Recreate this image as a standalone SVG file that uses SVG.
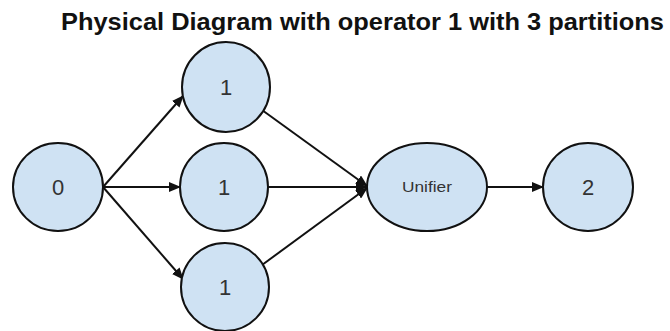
<svg xmlns="http://www.w3.org/2000/svg" width="670" height="331" viewBox="0 0 670 331">
<style>
.n{fill:#cfe2f3;stroke:#111;stroke-width:2}
.t{font-family:"Liberation Sans",Arial,sans-serif;fill:#333;text-anchor:middle}
.e{stroke:#111;stroke-width:2;fill:none;marker-end:url(#a)}
</style>
<defs>
<marker id="a" viewBox="0 0 12 10" refX="11" refY="5" markerWidth="12" markerHeight="10" markerUnits="userSpaceOnUse" orient="auto">
<path d="M0,0 L12,5 L0,10 Z" fill="#111"/>
</marker>
</defs>
<rect width="670" height="331" fill="#fff"/>
<text x="61" y="30" textLength="603" lengthAdjust="spacingAndGlyphs" style="font-family:'Liberation Sans',Arial,sans-serif;font-weight:bold;font-size:24px;fill:#111">Physical Diagram with operator 1 with 3 partitions</text>
<g id="connectors">
<line class="e" x1="103" y1="187" x2="183" y2="96"/>
<line class="e" x1="103" y1="187" x2="180" y2="187"/>
<line class="e" x1="103" y1="187" x2="183" y2="279"/>
<line class="e" x1="262" y1="110" x2="367" y2="186"/>
<line class="e" x1="268" y1="187" x2="367" y2="187"/>
<line class="e" x1="262" y1="265" x2="367" y2="188"/>
<line class="e" x1="487" y1="187" x2="543" y2="187"/>
</g>
<g id="n0"><ellipse class="n" cx="58" cy="187" rx="45" ry="44"/><text class="t" x="58" y="195" font-size="22">0</text></g>
<g id="n1a"><ellipse class="n" cx="226" cy="87" rx="44" ry="45"/><text class="t" x="226" y="95" font-size="22">1</text></g>
<g id="n1b"><ellipse class="n" cx="224" cy="187" rx="44" ry="44"/><text class="t" x="224" y="195" font-size="22">1</text></g>
<g id="n1c"><ellipse class="n" cx="225" cy="287" rx="44" ry="44"/><text class="t" x="225" y="295" font-size="22">1</text></g>
<g id="unifier"><ellipse class="n" cx="427" cy="187" rx="60" ry="44"/><text class="t" x="427" y="192" font-size="14" textLength="50" lengthAdjust="spacingAndGlyphs">Unifier</text></g>
<g id="n2"><ellipse class="n" cx="588" cy="187" rx="45" ry="44"/><text class="t" x="588" y="195" font-size="22">2</text></g>
</svg>
